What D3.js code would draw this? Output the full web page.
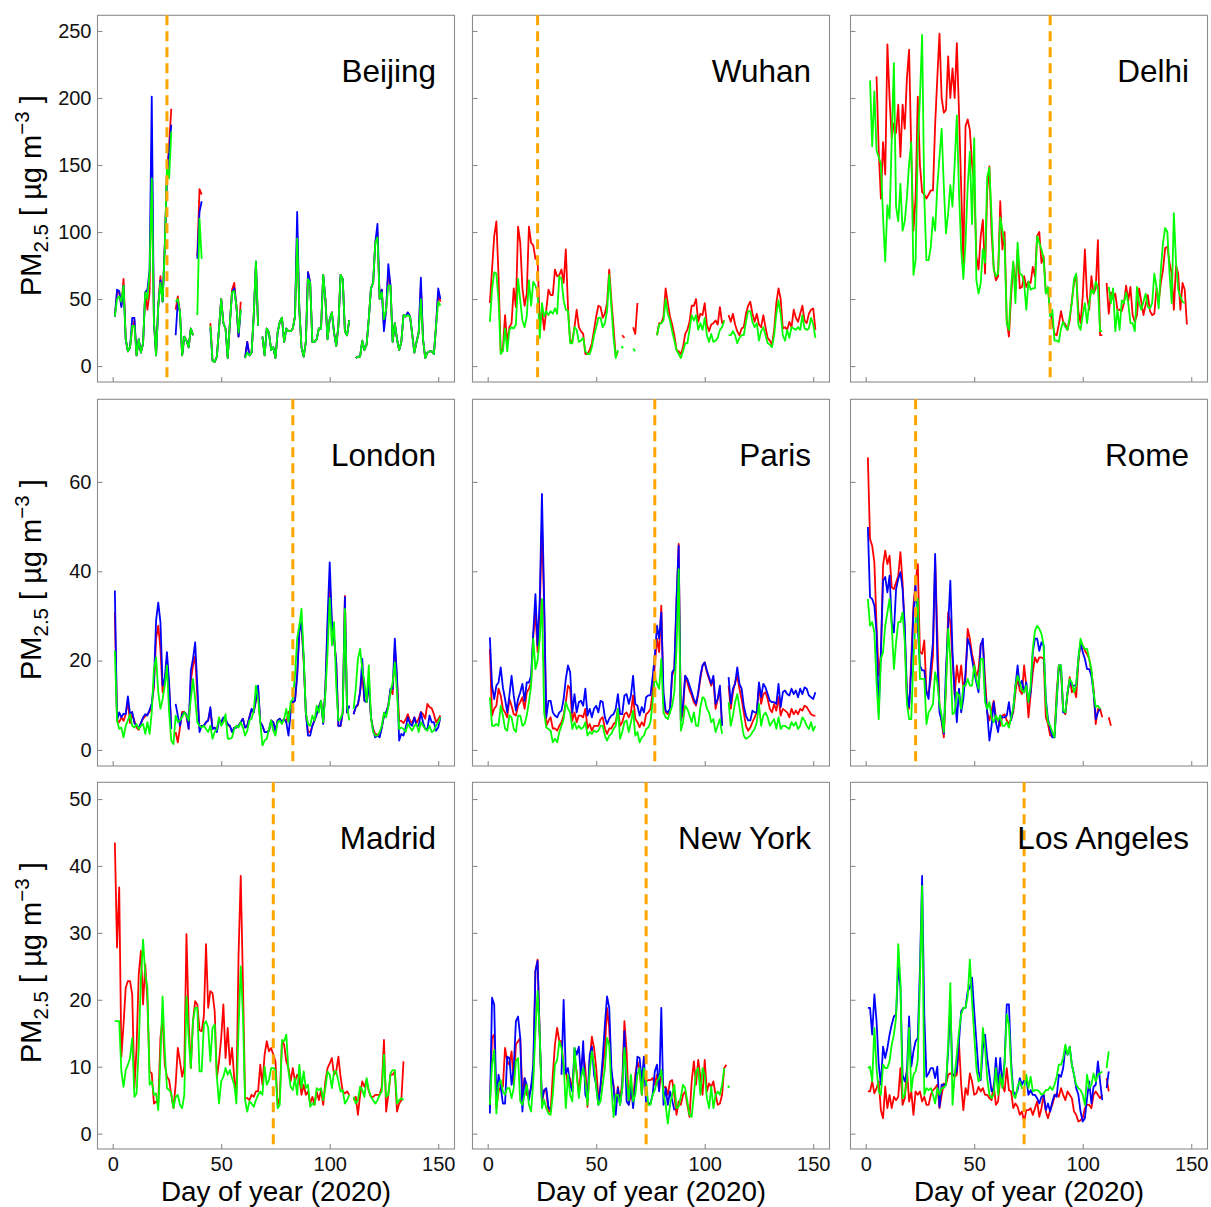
<!DOCTYPE html>
<html>
<head>
<meta charset="utf-8">
<script src="https://cdn.jsdelivr.net/npm/d3@7/dist/d3.min.js"></script>
<style>
  body { margin: 0; background: #fff; }
  svg { display: block; font-family: "Liberation Sans", Arial, Helvetica, sans-serif; }
</style>
</head>
<body>
<svg id="chart" width="1211" height="1207"></svg>
<script>
// Daily PM2.5 (µg m^-3), index 0 = day 1 of 2020; null = no data
const _ = null;

const beijingRed = [
  37,55,55,45,65,20,11,14,28,34,
  8,20,10,17,55,42,55,160,33,8,
  45,67,48,90,145,165,192,_,42,52,
  40,8,22,19,14,28,23,_,82,132,
  128,_,_,_,32,4,3,7,28,50,
  32,28,6,32,57,62,45,22,48,_,
  6,18,8,10,38,76,30,_,22,8,
  28,25,12,14,6,25,33,36,18,28,
  26,26,28,37,100,42,14,7,18,70,
  62,18,18,20,28,28,68,50,20,35,
  40,25,15,30,68,65,26,23,34,_,
  _,6,7,7,19,12,16,35,58,62,
  92,100,50,57,30,42,70,60,18,32,
  20,12,18,38,37,40,37,24,10,18,
  25,60,20,6,10,11,11,9,30,55,48];
const beijingBlue = [
  37,57,56,44,60,20,11,14,36,36,
  8,20,10,17,55,57,72,201,33,8,
  45,64,48,90,140,160,180,_,23,48,
  40,8,22,19,14,28,23,_,80,115,
  123,_,_,_,28,4,3,7,28,50,
  32,28,6,32,55,58,45,22,42,_,
  6,18,8,10,38,78,30,_,22,8,
  28,25,12,14,6,25,33,36,18,28,
  26,26,28,37,115,42,14,7,18,70,
  62,18,18,20,28,28,68,50,20,35,
  40,25,15,30,68,65,26,23,34,_,
  _,6,7,7,19,12,16,35,58,62,
  92,106,50,57,26,42,76,60,18,32,
  20,12,18,38,37,40,37,24,10,18,
  25,66,20,6,10,11,11,9,30,58,50];
const beijingGreen = [
  37,50,52,48,60,20,11,14,30,30,
  8,20,10,17,55,50,70,140,33,8,
  45,62,48,88,148,140,175,_,48,50,
  40,8,22,19,14,28,23,_,38,110,
  80,_,_,_,30,4,3,7,28,50,
  32,28,6,32,55,56,45,25,42,_,
  6,10,8,10,38,78,30,_,22,8,
  28,25,12,14,6,25,33,36,18,28,
  26,26,28,37,95,42,14,7,18,65,
  62,18,18,20,28,28,68,50,20,35,
  40,25,15,30,68,65,26,23,34,_,
  _,6,7,7,19,12,16,35,58,62,
  92,96,50,55,35,42,60,60,18,32,
  20,12,18,38,37,38,37,24,10,18,
  25,50,20,6,10,11,11,9,30,48,45];

const wuhanRed = [
  47,72,97,108,67,11,13,38,17,29,
  32,58,44,104,92,58,45,54,104,92,
  90,80,80,29,42,27,42,57,53,53,
  72,67,68,72,62,87,44,18,19,29,
  42,29,26,24,9,9,12,17,27,37,
  45,44,36,39,47,72,49,29,7,11,
  _,23,21,_,_,_,29,24,47,_,
  _,_,_,_,_,_,_,23,32,32,
  37,58,47,37,31,23,12,11,9,14,
  24,27,33,45,45,50,33,39,38,47,
  31,26,31,32,34,31,44,32,34,_,
  38,33,39,31,26,23,28,29,39,45,
  48,39,33,39,31,29,38,29,21,19,
  16,27,47,58,50,28,29,27,33,29,
  42,36,33,39,45,34,32,39,42,43,27];
const wuhanGreen = [
  33,57,70,69,49,9,11,28,11,27,
  29,28,31,65,49,34,29,37,64,45,
  63,60,55,21,47,37,41,38,41,39,
  43,39,67,65,49,42,41,17,17,29,
  27,18,19,21,11,9,9,14,23,29,
  36,36,29,32,41,68,44,21,6,12,
  _,14,_,_,_,_,13,11,_,_,
  _,_,_,_,_,_,_,23,31,32,
  34,50,39,34,26,19,12,9,6,11,
  17,17,27,38,34,38,27,32,27,36,
  23,18,24,18,19,21,27,29,34,_,
  23,23,26,23,17,21,23,23,33,41,
  41,33,29,32,19,26,29,23,17,16,
  14,23,39,49,39,23,19,27,21,29,
  28,27,29,27,38,28,27,28,36,31,21];

const delhiRed = [
  _,_,_,_,216,161,125,167,143,240,
  200,170,181,174,195,156,195,177,215,236,
  160,101,126,201,150,130,128,125,128,131,
  131,180,215,248,200,189,191,231,200,222,
  200,241,189,133,77,179,184,176,151,136,
  82,72,97,109,69,131,149,99,73,64,
  67,123,87,100,34,22,52,77,57,87,
  58,59,67,59,63,62,74,67,97,100,
  77,82,55,57,42,32,24,23,31,41,
  33,31,27,34,49,62,68,41,32,52,
  87,52,42,67,54,58,94,23,23,_,
  62,39,55,50,54,42,42,41,47,60,
  49,59,38,33,38,58,48,38,46,53,
  41,38,39,58,48,62,72,88,89,77,
  69,42,75,69,42,62,57,31];
const delhiGreen = [
  _,213,164,205,161,156,151,111,78,120,
  110,169,226,119,108,136,101,108,126,151,
  167,68,79,166,200,247,126,79,79,89,
  111,101,134,156,177,134,99,114,135,119,
  151,187,130,87,65,92,134,160,106,170,
  64,54,62,87,77,141,148,111,72,67,
  69,111,101,92,32,27,59,78,47,92,
  69,68,62,42,63,57,58,58,97,92,
  87,80,54,59,37,42,19,19,18,28,
  33,29,27,37,47,65,69,31,27,38,
  47,32,47,57,54,63,59,26,26,_,
  _,59,47,58,26,42,27,49,47,55,
  47,32,32,26,59,47,42,48,54,44,
  43,47,69,59,43,72,92,103,100,69,
  47,114,77,57,52,48,47];

const londonRed = [
  30.8,6.6,6.2,7.3,6.5,8,11,6,8,6.5,
  5,4.5,6,7,7.5,8,8.5,10.3,14,25,
  27.8,22.6,12.9,15,20.4,14,5,_,4,1.7,
  5,8.5,8.5,7.5,4.7,15.5,18.9,21,12,5,
  5.4,5.4,6.2,6.6,9,4.7,5,4.5,6.6,6.2,
  7,6.5,5.5,5.4,4,5,5,5.4,6.2,7,
  5,5.4,7.3,9,8.4,11,13.5,6.2,5.4,4,
  4,4.3,6.6,6.2,4.3,6.6,7,6.2,7,6.2,
  8.5,8.4,10.7,11,16.6,27,28,20,8.4,4,
  4,5.4,6.6,8,9.6,11,6,13.7,27,38,
  28,24.9,19.6,5.4,5.4,8.4,34.5,8.4,9.9,_,
  8,9.6,10,13,17,11,10.7,15.1,7.3,4.8,
  3.5,3.5,3.2,5,7.7,8.4,9.9,13.5,12.5,23,
  16,6.5,6.5,6,6.8,8,6.5,6,7.3,6,
  7,8.5,8,7,10.3,9.6,9.3,8,6.2,6.9,7.7];
const londonBlue = [
  35.7,6.6,8.4,7.3,8.1,8,12,8,8.5,6,
  5.4,5,6,7.3,8,7.7,9,10.3,15,29,
  33,28.6,14.4,16,21.9,15,4.7,_,10.3,7.7,
  5.4,8,8.4,8,4.7,17.8,20.4,24.1,14.4,4,
  5.4,5.4,6.2,6.6,9.6,4.7,5,4,6.6,6.2,
  7.3,7,5.8,5.4,4,5,5,5.4,6.2,7,
  5,5.4,7.3,9.2,8.4,11.4,14.4,6.2,5.4,4,
  4,4.3,6.6,6.2,4.3,6.6,7,6.2,7,6.2,
  3.2,8.4,10.7,11,16.6,26.3,28.6,20.4,8.4,3.2,
  3.2,5.4,6.6,8,9.6,11,5.8,13.7,29.3,42,
  28.6,24.9,19.6,5.4,5.4,8.4,34.2,8.4,9.9,_,
  8,9.6,10.3,12.9,20.4,11,10.7,15.1,7.3,4.3,
  2.8,3.2,2.8,5,7.7,8.4,9.9,13.7,13.7,24.9,
  16.3,2.1,3.6,3.2,5,7.3,5.8,5.4,7.3,5.4,
  5.4,8.4,6.2,4.7,4.7,7.7,6.2,6.2,4.3,5,7.3];
const londonGreen = [
  22.2,6.6,4.7,5,2.8,5.4,6.6,8,5.4,5,
  5.8,4.7,5.4,5.8,3.6,6.2,3.6,8.4,18.1,20.7,
  12.9,9.2,11.4,14.4,18.9,8.4,2.1,1.3,7.7,6.2,
  6.6,7.3,8.4,7.7,6.6,11.4,15.9,11.4,6.2,5.4,
  5,5.4,4.7,4,5.4,2.5,4,4.7,7.3,5.4,
  6.2,8,2.5,2.5,2.8,4.7,5.4,5,6.2,5,
  3.2,4.3,6.6,7,8.8,14.4,11.4,6.2,1,2.1,
  2.5,4.7,6.6,4.3,3.2,6.2,6.6,5.8,7,9.2,
  6.2,10.7,11.4,16.6,24.9,27.8,31.6,21.1,8.4,5.8,
  5.4,7.7,6.6,9.9,8.4,11,6.2,12.5,21.9,34,
  23.4,28.6,14.4,6.6,7,8.4,31.6,9.9,6.6,_,
  9.2,13.7,20.4,22.6,18.1,15.1,10.7,18.9,7.3,4,
  3.2,3.2,4,5.4,8.4,7.3,9.6,12.9,15.1,19.6,
  12.9,4.7,5,4.7,4,5.8,5,4.3,5.4,5.8,
  4,6.2,5.4,4.7,4.3,5.4,4,4.3,5.4,6.2,7.3];

const parisRed = [
  22.6,7.7,9.2,9.9,13.7,12.2,9.2,8.4,7.3,11.4,
  9.9,8,7.7,9.9,10.7,11.8,9.2,12.9,13.7,15.1,
  25.6,30.8,21.9,30.8,51,32.3,5.4,6.5,7.3,4.8,
  4.8,4.3,5.4,6.2,7.7,10.7,14.4,13.7,6.5,8.4,
  6.2,7.7,7.7,7.3,9.2,4.8,5.8,4.3,5.4,5.4,
  5.4,6.9,7.3,4.8,3.6,4.8,4.8,5.8,6.2,9.2,
  5.4,6.2,8,8.4,7.3,8.4,12.2,7,6.2,5.1,
  6.2,5.4,8,8.4,9.2,12.9,18.9,24.9,21.9,32.3,
  11.4,8.4,8,8.4,16.6,18.1,33,46.1,6.6,8.4,
  16.6,15.1,13.3,12.2,10.7,9.9,12.5,15.9,18.9,19.6,
  17.4,15.9,14.4,15.9,9.2,11.4,13.7,5.4,_,_,
  14.4,9.2,12.9,15.1,16.6,13.7,11.4,8.4,5.4,4.3,
  5,6.2,7.3,8.4,14.4,10.3,12.5,12.9,11.4,9.2,
  8.4,10.3,8.8,11.8,7.7,9.2,8.8,8.4,7.3,9.2,
  8,8.8,8,9.2,8.8,9.9,9.6,8.8,8,7.7,7.7];
const parisBlue = [
  25.2,14.4,11.4,14.4,15.1,18.5,14,11.4,8.4,12.2,
  16.6,12.2,8.8,11.4,12.9,14.8,11,15.1,15.1,16.6,
  26.3,34.9,23.4,33.8,57.3,33.8,7.3,11,11,8.4,
  7.7,7.3,8.4,8.8,11.4,15.9,18.9,17.4,8.4,12.5,
  8.4,10.7,11,9.9,13.7,7.7,9.2,7.3,9.2,9.9,
  8.4,11,10.7,7.3,5.8,7,7.7,8,9.2,12.5,
  8,8,12.2,12.5,10.3,12.2,16.6,10.3,9.9,7.7,
  9.6,8.4,11.8,12.2,12.2,16.3,21.1,27.8,24.9,30.8,
  12.9,8.8,8.4,9.2,17.4,18.1,33.8,45.7,6.6,10.3,
  16.6,15.9,14.4,12.9,11.4,10.3,12.9,16.6,18.9,19.6,
  17.8,16.3,14.8,16.6,10.3,11.4,14.4,5.4,_,_,
  16.3,10.3,13.7,14.8,18.5,14.8,13.7,9.9,7.7,6.6,
  6.6,8.8,8.4,8.4,15.1,11.8,14.8,14,12.5,11,
  10.7,10.7,10.3,14.8,9.6,12.9,13.3,12.5,12.2,13.7,
  12.5,13.3,11.8,13.7,12.5,14,13.7,12.2,11.8,11.4,12.9];
const parisGreen = [
  11.8,5.4,5.4,5.8,5.4,9.9,7.7,4.7,4.3,7.7,
  7.3,4.7,4,7.7,7.7,5.4,5.8,7.7,10.7,14.4,
  24.9,18.1,20,25,33.8,8.4,5,4.7,4.3,1.7,
  2.5,1.7,4,5.4,6.9,10.7,9.2,8.4,4.7,6.2,
  4.7,5.4,4.7,5,6.2,3.2,4,3.6,4.3,4,
  4.3,5.4,5.4,3.2,2.1,3.2,3.6,4.7,5.4,9.2,
  2.5,4,6.2,6.6,4,6.2,8.8,3.2,4,1.7,
  2.8,3.2,4.7,5,6.2,10.7,16.3,14.8,13.7,20.4,
  8.4,7.3,6.9,8.4,9.9,12.9,22.6,40.5,4.3,6.2,
  9.9,9.2,7.7,6.2,8.4,5.4,5.4,9.6,11.8,11.4,
  9.2,8.4,6.2,6.9,4,5.4,6.9,3.6,_,_,
  10.7,5.4,7.7,10.7,12.5,9.6,6.2,3.2,2.5,2.8,
  3.2,4,4.7,6.2,10.3,5.4,7.7,8.4,7.3,5.4,
  6.2,6.9,4.7,7.3,4.7,5.4,5.4,5,4.7,6.2,
  5.4,6.2,4.7,5.4,7.3,6.6,5.4,4.7,6.2,4.3,5.4];

const romeRed = [
  65.5,47.2,45.7,42,27.8,16.6,21.1,41.3,44.6,41.6,
  43.5,36.4,36,37.5,39,44.3,37.5,26.3,11.4,9.2,
  20.4,32.3,37.9,41.6,21.9,21.5,24.5,12.9,12.9,15.9,
  21.1,42.8,26.3,9.9,6.2,2.8,14.4,30.8,28.6,20.4,
  12.2,18.9,15.1,18.9,13.7,15.9,27.1,24.9,21.5,19.3,
  16.3,18.1,23.7,24.1,15.9,8.4,6.6,8.8,11,7.3,
  6.6,5.4,7.7,8,6.6,5.8,7,8.4,12.9,16.3,
  13.3,12.5,18.9,14.4,7.3,12.5,17.4,20.7,19.6,20.7,
  20.7,20.4,7.3,5.8,3.2,3.2,3.2,12.9,18.9,17.4,
  8.8,8,12.5,16.3,12.9,13.7,11.8,19.6,24.1,23.4,
  22.2,21.5,20.4,17.4,13.7,5.8,9.2,9.2,7.3,_,
  _,7.3,5.4];
const romeBlue = [
  49.9,34.2,33.8,32.3,26.3,8.4,21.9,37.9,38.7,35.3,
  39,28.6,26.3,36,38.3,39.8,36,27.8,12.9,9.6,
  18.1,30.8,36.8,27.5,18.9,17.8,17.8,12.9,11.4,18.9,
  24.1,43.9,20.4,8.4,6.6,3.6,18.1,27.8,37.9,21.9,
  12.9,6.2,13.7,8.4,11.4,17.4,24.9,23.4,20.4,17.4,
  15.1,12.9,23.4,24.9,12.9,8.4,2.1,5.4,10.7,6.2,
  4,7.7,7.3,7.3,7.7,10.7,6.6,9.2,14.4,18.9,
  14.4,15.5,12.9,15.1,10.7,12.9,21.9,24.9,24.9,22.2,
  24.1,23.4,11.4,6.9,4.8,2.8,2.8,10.7,18.9,18.9,
  8.4,8.4,12.9,15.5,14.4,14.4,14.4,20.4,24.1,21.9,
  20.4,18.1,18.1,16.6,12.9,6.9,8.4,9.2];
const romeGreen = [
  33.8,27.8,28.6,26.3,15.1,6.9,20.4,21.9,27.8,30.8,
  33.8,27.8,18.1,24.1,28.6,28.6,30.8,24.1,10.3,6.9,
  6.9,20.4,29.3,33.8,15.9,15.9,15.9,5.8,8.4,9.2,
  10.3,17.4,15.1,10.3,7.7,4,14.4,27.1,20.4,8,
  8.4,12.9,12.2,9.2,14.4,14.4,15.9,14.4,14.4,18.9,
  15.9,13.7,20.4,20.4,10.7,9.2,10.7,7.3,6.2,7.7,
  6.6,7.7,5.4,5.4,6.2,5,7.3,9.2,14.4,16.6,
  15.1,13.3,12.9,14.4,10.7,14.4,22.6,26.7,27.8,27.1,
  26,23.4,10.7,6.2,5.4,4,2.8,11.4,18.9,18.9,
  8.8,8.4,12.9,15.9,15.1,12.9,14.4,20.4,24.9,23.4,
  22.6,22.6,20.4,18.1,12.9,9.6,9.9,9.2];

const madridRed = [
  43.5,27.8,36.8,11.5,16.3,21.8,22.8,22.8,20.8,6.8,
  12.8,23.8,27.3,19.3,25.3,19.8,9.3,9,4.5,4.8,
  4.5,14.3,17.3,10.3,8.5,8,5.8,3.8,7.3,12.8,
  10.8,8.5,10,29.8,16.8,9.8,16.8,19.8,19.3,15.5,
  15.3,17.5,28.3,18.8,21.3,21,18.3,8.3,10.8,14.3,
  19.3,11.3,15.8,10.3,12.8,8.3,5.8,26.8,38.5,22.8,
  5.3,5.3,5,5.8,5.5,6.3,6.3,10.3,7.3,11.8,
  13.8,12.3,12.8,11.8,10.8,4.3,5.3,13.8,13.3,10.8,
  9.8,7.8,9.8,7.8,8.8,8.3,5.8,7.3,5.8,6.3,
  4.5,5.5,4.3,6.3,5,6.5,4.3,7.8,9.8,10.5,
  11.3,8.8,9.3,11.5,8.5,6.3,6,6.3,5.8,_,
  5,5.5,2.8,5.8,7.8,7,8,6.3,5.5,5.5,
  5.8,5.8,5.8,7,14,3.3,5.8,8.8,8.8,9.3,
  3.3,4.5,5,10.8];
const madridGreen = [
  16.8,16.8,16.8,9.3,7,9.5,10.3,11.3,14.3,5.5,
  6,12.8,23.3,29,23.8,21.8,7.3,7.8,5.8,6,
  3.5,11.3,20.5,12.3,6.8,6.5,6,3.8,5.5,5.8,
  4.3,3.8,5.8,20.5,14.3,9.8,16.8,18.8,18.8,9.3,
  9.3,16.3,16.8,15.8,10.8,15.8,16.3,8.5,4.5,7.8,
  8.5,9.8,8.8,9.5,8.3,7.3,4.5,15.8,25,17.8,
  5,3.3,4.8,4.5,4,5,5.8,6.3,5.8,10,
  7.3,8,9.8,9.8,9.5,3.8,4.3,14,13.8,14.8,
  9.3,7,6.5,8.3,5.8,10.3,6.8,9.3,6.8,7.3,
  4,4.5,4.3,6.8,6.5,6.8,5,6.8,9.3,8.8,
  6.8,9.3,9.3,7.8,6.3,6.5,4.5,5,5.8,_,
  5.5,4.5,5,7,6.5,5.5,8.3,6.5,5.5,5,
  4.5,5,5.8,6.3,11.8,5.5,5.8,9,9.5,9.5,
  4.5,5,5.3,5];

const newYorkRed = [
  3.8,14.3,14.8,3.8,6.3,7,7,12.8,10.8,10.3,
  12.3,7.3,13.3,13.8,14.3,5.8,8.3,5.8,5.8,6.8,
  8.8,24.3,26,14.3,4.5,6.5,6.3,3.3,3.3,8.8,
  13.3,15.8,13.8,13.8,9.8,9.3,7.3,8.3,6.5,11.3,
  9.3,5.8,9.8,12,9.8,4,10.8,14.5,12.8,9.8,
  5.3,6.8,9.8,12.8,18.8,15.8,8.8,7.3,4.3,7,
  4.8,7.8,16.8,12.3,4.3,5.8,5,8.8,10.8,9.5,
  5.8,9.3,7.8,8,8,8.3,7.3,8.8,6.5,9.3,
  6.8,7,5.8,7.8,8,5.8,2.8,4.8,4.3,5.8,
  6.3,4.3,2.5,7.8,10.8,7.3,11,8.5,5.8,11,
  6.3,7.5,7,7.8,5.8,4.3,4.5,5.8,9.8,10.3];
const newYorkBlue = [
  3,20.3,19.3,4.8,8.8,7,4.5,4.5,11.5,11.3,
  7.3,9.8,16.8,17.5,14.3,3.3,8.3,7.3,5,7,
  10.3,24.3,25.8,14.3,5,6.5,6.8,4,3.5,_,
  _,_,_,8.8,20,9,9.8,7.3,6.3,12.8,
  11.8,13,8.3,13.8,5.8,5,11.8,13,8.8,7.3,
  4.3,7.3,11.3,16.3,20.5,18.8,9.8,6.8,2.8,6.8,
  4.3,6.8,15.3,4.8,4.3,7.3,3.8,7.3,11.5,11.3,
  7.8,11.5,4.3,4.5,4.5,5.8,9.3,10.3,6.3,18.8,
  4.3,6.8,4.3,6.3,5,3.5];
const newYorkGreen = [
  4.3,10.3,12.5,3,7.3,8,6.3,5.8,6.8,6.8,
  5.3,6.8,10.8,11.3,4.8,4.3,5.8,7.3,4.3,3.3,
  7.8,15.3,21.3,14.8,3.8,5,3.8,3,2.8,5.8,
  10.3,11,13.8,12.8,10.3,3.8,8.8,5.8,4.8,12.8,
  8.8,5.3,8.3,9.8,7.8,4.3,9.3,12.3,10.3,6.8,
  4.3,4.8,7.3,9.8,14.3,13.3,6.8,2.5,5.8,5.8,
  4.3,6.8,12.8,8.5,5,8.8,4.8,5.8,8.8,9.8,
  5.8,9.8,7.8,4.3,4.3,5.8,6.5,7.8,8.3,9.5,
  5.8,4.3,1.5,4.3,5.8,7.3,3.8,4,5.5,7.3,
  6.8,4.8,2.8,2.5,5.8,9.3,9.8,5.8,9.8,8.8,
  5.3,3.8,7,3.8,5.8,6.3,5.8,7.3,9.8,_,
  7];

const losAngelesRed = [
  6.3,6.3,7.8,6,6.8,7.8,3.5,2.3,7,3.8,
  5.8,3.8,5.5,5,5.5,9.8,4.3,5.3,9.8,4.8,
  6.3,2.8,6.3,5.8,6.3,4.8,5.5,4.3,4.3,5.8,
  6.5,6.8,7.3,3.8,5.8,7.5,7.3,8.8,9,8.8,
  8.5,8.8,13.5,7.3,3.5,6.8,5.8,9,7.8,5.8,
  6,7,6.3,6.8,5.8,5.8,5.3,5,7.3,4.3,
  4.8,8.3,7.3,6.3,9.8,6.5,6.3,3.8,4.5,4,
  2.8,3.3,1.8,3.5,3.5,3.8,2.8,3.8,4.8,2.5,
  3.8,5.8,3.3,2.3,3.5,4.3,5.5,6,5.5,6.8,
  5.8,5,6.3,5.8,5.3,3.3,2.8,1.8,2,2.3,
  3.8,4.3,4.3,3.8,5.8,6.3,5.8,5.3,5.8,_,
  8.3,6.3];
const losAngelesBlue = [
  18.8,18.8,14.8,20.8,16.8,10.3,7.3,13,11.3,12.8,
  14.8,16.3,17.5,17.8,24.8,22,8.8,7.8,9.3,17.5,
  10,12.3,13.8,14.3,24.8,38.5,17.8,8.5,9,9.8,
  9.8,8.3,10,4,7.3,7.3,7.3,12.3,19.3,8.8,
  8.8,9.5,13.8,18.3,18.8,18.8,21.3,21.8,23.3,18.3,
  13.8,9.3,8,12.8,14.8,11.3,8.8,6.3,6.8,11.3,
  7,11.3,7.3,10.8,19.3,19.3,10.8,6.3,5.8,6.5,
  8.3,7.3,8,8.3,5.8,6.5,5.8,5.8,5.3,4.5,
  5.5,5.8,3.5,4.5,3.3,4.8,5.8,5.5,8.8,8.5,
  9.8,12.8,11.8,13,10.3,8.8,6.8,5.8,3.3,1.8,
  2.3,5.3,7.8,4.5,7,7.3,10.8,7.8,5,_,
  6.8,9.3];
const losAngelesGreen = [
  9.8,10,7.8,15.8,9.8,6.3,5.8,10.3,9.8,9.8,
  10.8,13.3,14.8,17.3,28.3,22.8,5.3,5.8,7.8,15.8,
  6.3,8.8,9.3,11,22.8,37,5.8,6.8,6.5,6.8,
  5.8,4.5,6.8,5.8,6.8,6.8,7.3,13.3,22.5,4.3,
  8.8,11.8,15.3,17.8,18.8,18.8,20.5,26,19.8,14.8,
  9.8,7.8,8.3,15.8,12.8,8.3,5.8,5.3,5.8,9.8,
  5.8,8.8,6.8,10.3,17.8,16.3,9.8,5.8,5.3,7,
  7.8,6.8,6.8,8.8,6.8,8.5,6.3,6.5,6.5,6.3,
  5.8,6,6.5,6.5,7,6.5,7.3,8.5,10.3,10.3,
  11.3,13.3,11.8,13,10.3,8.8,7.3,6.8,6.5,5.8,
  4.3,8.8,6.8,7.3,9,7.8,8.8,9,9.3,_,
  9.8,12.3];

// City panels, lockdown day (dashed marker) and the series drawn in each
const cities = ["Beijing", "Wuhan", "Delhi", "London", "Paris", "Rome", "Madrid", "New York", "Los Angeles"];
const lockdownDays = [25, 23, 85, 83, 77, 23, 74, 73, 73];
const citySeries = [
  [beijingRed, beijingBlue, beijingGreen],
  [wuhanRed, null, wuhanGreen],
  [delhiRed, null, delhiGreen],
  [londonRed, londonBlue, londonGreen],
  [parisRed, parisBlue, parisGreen],
  [romeRed, romeBlue, romeGreen],
  [madridRed, null, madridGreen],
  [newYorkRed, newYorkBlue, newYorkGreen],
  [losAngelesRed, losAngelesBlue, losAngelesGreen]
];
const seriesColors = ["#ff0000", "#0000ff", "#00ff00"];

const xTicks = [0, 50, 100, 150];
const xDomain = [-7, 157.5];
const rowYTicks = [[0, 50, 100, 150, 200, 250], [0, 20, 40, 60], [0, 10, 20, 30, 40, 50]];
const rowYDomains = [[-11.9, 261.7], [-3.6, 78.5], [-2.3, 52.5]];

// Grid geometry
const colLeft = [97.5, 472.5, 850.5];
const rowTop = [15.3, 399.3, 782.3];
const panelW = 357;
const panelH = 366.7;
const FONT = '"Liberation Sans", Arial, Helvetica, sans-serif';

const svg = d3.select("#chart");
svg.append("rect").attr("width", 1211).attr("height", 1207).attr("fill", "#fff");

cities.forEach((city, k) => {
  const row = Math.floor(k / 3), col = k % 3;
  const left = colLeft[col], top = rowTop[row];
  const x = d3.scaleLinear().domain(xDomain).range([left, left + panelW]);
  const y = d3.scaleLinear().domain(rowYDomains[row]).range([top + panelH, top]);
  const g = svg.append("g").attr("class", "panel");

  const clipId = "clip" + k;
  g.append("clipPath").attr("id", clipId)
    .append("rect").attr("x", left).attr("y", top).attr("width", panelW).attr("height", panelH);

  // frame
  g.append("rect").attr("x", left).attr("y", top).attr("width", panelW).attr("height", panelH)
    .attr("fill", "none").attr("stroke", "#8c8c8c").attr("stroke-width", 1.1);

  // axes with inward ticks
  const xAxis = g.append("g").attr("transform", `translate(0,${top + panelH})`)
    .call(d3.axisBottom(x).tickValues(xTicks).tickSizeInner(-5).tickSizeOuter(0).tickPadding(8)
      .tickFormat(row === 2 ? d3.format("d") : () => ""));
  const yAxis = g.append("g").attr("transform", `translate(${left},0)`)
    .call(d3.axisLeft(y).tickValues(rowYTicks[row]).tickSizeInner(-5).tickSizeOuter(0).tickPadding(6)
      .tickFormat(col === 0 ? d3.format("d") : () => ""));
  [xAxis, yAxis].forEach(a => {
    a.select(".domain").remove();
    a.selectAll(".tick line").attr("stroke", "#8c8c8c").attr("stroke-width", 1.1);
    a.selectAll(".tick text").attr("fill", "#111").style("font-size", "20px").style("font-family", FONT);
  });

  // data lines
  const plot = g.append("g").attr("clip-path", `url(#${clipId})`);
  const line = d3.line()
    .defined(v => v !== null)
    .x((v, i) => x(i + 1))
    .y(v => y(v));
  citySeries[k].forEach((values, s) => {
    if (!values) return;
    plot.append("path").datum(values)
      .attr("fill", "none").attr("stroke", seriesColors[s])
      .attr("stroke-width", 1.8).attr("stroke-linejoin", "round").attr("d", line);
    // single days bordered by gaps on both sides
    const lone = values.map((v, i) => ({ v, i }))
      .filter(p => p.v !== null && (p.i === 0 || values[p.i - 1] === null) && (p.i === values.length - 1 || values[p.i + 1] === null));
    plot.selectAll(null).data(lone).enter().append("circle")
      .attr("cx", p => x(p.i + 1)).attr("cy", p => y(p.v)).attr("r", 1.2)
      .attr("fill", seriesColors[s]);
  });

  // lockdown marker
  g.append("line")
    .attr("x1", x(lockdownDays[k])).attr("x2", x(lockdownDays[k]))
    .attr("y1", top).attr("y2", top + panelH)
    .attr("stroke", "#ffa500").attr("stroke-width", 3).attr("stroke-dasharray", "10,6");

  // city name
  g.append("text")
    .attr("x", left + panelW - 18.5).attr("y", top + 66.5)
    .attr("text-anchor", "end").attr("fill", "#000")
    .style("font-size", "31.5px").style("font-family", FONT)
    .text(city);
});

// x-axis titles
colLeft.forEach(left => {
  svg.append("text")
    .attr("x", left + panelW / 2).attr("y", 1201)
    .attr("text-anchor", "middle").attr("fill", "#000")
    .style("font-size", "27.8px").style("font-family", FONT)
    .text("Day of year (2020)");
});

// y-axis titles
rowTop.forEach(top => {
  const cy = top + panelH / 2 - 3;
  const t = svg.append("text")
    .attr("transform", `translate(41,${cy}) rotate(-90)`)
    .attr("text-anchor", "middle").attr("fill", "#000")
    .style("font-size", "29px").style("font-family", FONT).style("white-space", "pre");
  t.append("tspan").text("PM");
  t.append("tspan").attr("dy", 6.5).style("font-size", "20.5px").text("2.5");
  t.append("tspan").attr("dy", -6.5).text(" [ µg m");
  t.append("tspan").attr("dy", -12).style("font-size", "20.5px").text("\u22123");
  t.append("tspan").attr("dy", 12).text(" ]");
});
</script>
</body>
</html>
